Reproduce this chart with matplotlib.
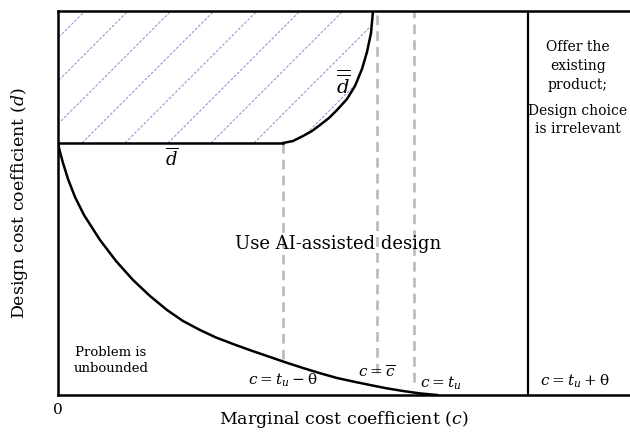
import numpy as np
import matplotlib
matplotlib.use("Agg")
import matplotlib.pyplot as plt
from matplotlib.patches import Polygon

plt.rcParams['font.family'] = ['DejaVu Serif']
plt.rcParams['mathtext.fontset'] = 'dejavuserif'

# conceptual diagram, values (arbitrary units)
d_bar = 252                     # lower bound of the hatched region
c_tu_theta_minus = 225          # c = t_u - theta
c_cbar = 319                    # c = c-bar
c_tu = 356                      # c = t_u
c_tu_theta_plus = 470           # c = t_u + theta
d_top = 384
c_max = 572

# lower boundary curve (unbounded region)
low_c = [0, 2, 5, 10, 17, 26, 42, 58, 75, 92, 109, 125, 142, 158, 175, 193, 212,
         228, 245, 262, 279, 296, 312, 328, 345, 362, 379]
low_d = [252, 243, 232, 216, 198, 180, 155, 134, 115, 99, 85, 74, 65, 57.5, 51, 44.5,
         38, 32.5, 27, 21.8, 17, 13.3, 10, 6.8, 4, 1.6, 0]

# double-bar curve
up_c = [225, 235, 245, 254, 262, 271, 279, 289, 297, 304, 309, 313, 315]
up_d = [252, 254, 259, 264, 270, 277, 285, 296, 309, 326, 343, 362, 384]

# ends of the dashed guides
dash_lo = [36, 22, 13]

fig = plt.figure(figsize=(6.3, 4.33), dpi=100)
ax = fig.add_axes([58 / 630, 38 / 433, 572 / 630, 384 / 433])
ax.set_xlim(0, c_max)
ax.set_ylim(0, d_top)

# hatched region
poly_c = [0, c_tu_theta_minus] + up_c + [0]
poly_d = [d_bar, d_bar] + up_d + [d_top]
clip = Polygon(np.column_stack([poly_c, poly_d]), closed=True, fc='none', ec='none')
ax.add_patch(clip)
for c0 in np.arange(24 - 43 * 10, 400, 43):
    ln, = ax.plot([c0, c0 + 600], [d_bar, d_bar + 600], color='#8e9bd0', lw=0.8,
                  dashes=(2.5, 1.5), zorder=1)
    ln.set_clip_path(clip)

# boundaries
ax.plot([0, c_tu_theta_minus], [d_bar, d_bar], color='black', lw=1.8, zorder=3)
ax.plot(up_c, up_d, color='black', lw=1.8, zorder=3)
ax.plot(low_c, low_d, color='black', lw=1.8, zorder=3)
ax.axvline(c_tu_theta_plus, color='black', lw=1.6, zorder=3)

# dashed guides
ax.plot([c_tu_theta_minus] * 2, [dash_lo[0], d_bar], color='#bdbdbd', lw=2,
        dashes=(3.5, 2.2), zorder=2)
ax.plot([c_cbar] * 2, [dash_lo[1], d_top], color='#bdbdbd', lw=2,
        dashes=(3.5, 2.2), zorder=2)
ax.plot([c_tu] * 2, [dash_lo[2], d_top], color='#bdbdbd', lw=2,
        dashes=(3.5, 2.2), zorder=2)

for s in ['left', 'top', 'bottom']:
    ax.spines[s].set_linewidth(1.8)
ax.spines['right'].set_visible(False)
ax.set_xticks([])
ax.set_yticks([])

# labels
ax.text(114, 237, r'$\overline{d}$', fontsize=13, ha='center', va='center')
ax.text(285, 311, r'$\overline{\overline{d}}$', fontsize=14, ha='center', va='center')
ax.text(280, 151, 'Use AI-assisted design', fontsize=13, ha='center', va='center')
ax.text(53, 34, 'Problem is\nunbounded', fontsize=9.5, ha='center', va='center',
        linespacing=1.3)
ax.text(c_tu_theta_minus, 15, r'$c = t_u - \mathrm{\theta}$', fontsize=11,
        ha='center', va='center')
ax.text(c_cbar, 22, r'$c = \overline{c}$', fontsize=11, ha='center', va='center')
ax.text(c_tu + 6, 12, r'$c = t_u$', fontsize=11, ha='left', va='center')
ax.text(517, 14, r'$c = t_u + \mathrm{\theta}$', fontsize=11, ha='center', va='center')
ax.text(520, 329, 'Offer the\nexisting\nproduct;', fontsize=10, ha='center',
        va='center', linespacing=1.45)
ax.text(520, 275, 'Design choice\nis irrelevant', fontsize=10, ha='center',
        va='center', linespacing=1.45)
ax.text(0, -15, '0', fontsize=11, ha='center', va='center')

ax.set_xlabel(r'Marginal cost coefficient ($c$)', fontsize=12.5, labelpad=10)
ax.set_ylabel(r'Design cost coefficient ($d$)', fontsize=12.5, labelpad=20)

fig.savefig('out.png', dpi=100)
